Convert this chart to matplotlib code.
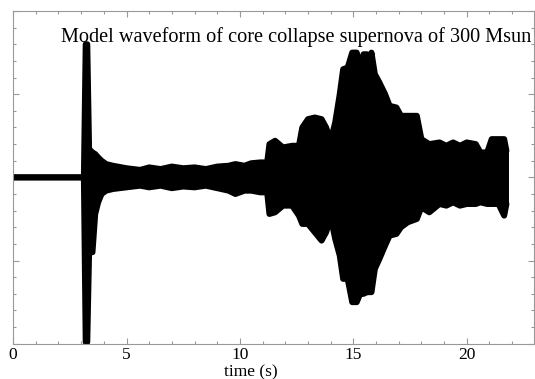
import numpy as np
import matplotlib
matplotlib.use("Agg")
import matplotlib.pyplot as plt
from matplotlib.ticker import MultipleLocator

plt.rcParams["font.family"] = ["Liberation Serif", "DejaVu Serif"]

# envelope of the waveform (arbitrary strain units)
t = [0.0, 3.12, 3.2, 3.27, 3.35, 3.5, 3.62, 3.75, 3.9, 4.1, 4.4, 5.0, 5.6, 6.0, 6.5,
     7.0, 7.5, 8.0, 8.5, 9.0, 9.5, 9.8, 10.2, 10.5, 10.9, 11.2, 11.3, 11.55, 11.9,
     12.3, 12.6, 12.75, 13.0, 13.3, 13.6, 13.8, 14.0, 14.2, 14.4, 14.55, 14.75,
     14.95, 15.15, 15.3, 15.45, 15.6, 15.7, 15.8, 15.95, 16.15, 16.4, 16.6, 16.9,
     17.1, 17.4, 17.8, 18.0, 18.35, 18.8, 19.1, 19.4, 19.7, 20.0, 20.4, 20.6,
     20.9, 21.1, 21.4, 21.65, 21.75]
upper = [0.0, 0.0, 0.80, 0.80, 0.17, 0.15, 0.14, 0.12, 0.10, 0.08, 0.07, 0.055,
         0.045, 0.06, 0.05, 0.065, 0.055, 0.06, 0.05, 0.065, 0.07, 0.08, 0.07,
         0.085, 0.09, 0.09, 0.20, 0.22, 0.18, 0.19, 0.19, 0.30, 0.35, 0.36, 0.35,
         0.30, 0.22, 0.33, 0.50, 0.65, 0.66, 0.75, 0.75, 0.66, 0.74, 0.74, 0.67,
         0.75, 0.62, 0.57, 0.50, 0.43, 0.42, 0.37, 0.37, 0.37, 0.23, 0.20, 0.21,
         0.19, 0.21, 0.19, 0.21, 0.20, 0.15, 0.15, 0.23, 0.23, 0.23, 0.16]
lower = [0.0, 0.0, -0.99, -0.99, -0.45, -0.45, -0.22, -0.15, -0.10, -0.08, -0.07,
         -0.06, -0.05, -0.06, -0.05, -0.065, -0.055, -0.06, -0.05, -0.065, -0.08,
         -0.10, -0.08, -0.08, -0.09, -0.09, -0.22, -0.21, -0.17, -0.17, -0.23,
         -0.28, -0.28, -0.33, -0.38, -0.33, -0.24, -0.37, -0.47, -0.61, -0.61,
         -0.75, -0.75, -0.70, -0.70, -0.69, -0.69, -0.69, -0.55, -0.49, -0.41,
         -0.35, -0.34, -0.30, -0.27, -0.25, -0.18, -0.21, -0.16, -0.17, -0.15,
         -0.17, -0.16, -0.16, -0.15, -0.16, -0.16, -0.16, -0.23, -0.16]

t = np.array(t)
upper = np.array(upper)
lower = np.array(lower)

fig = plt.figure(figsize=(5.35, 3.79), dpi=100)
ax = fig.add_axes([0.0245, 0.093, 0.973, 0.878])

ax.fill_between(t, lower, upper, color="black", lw=0)
ax.plot(t, upper, color="black", lw=4.3, solid_joinstyle="round", solid_capstyle="round")
ax.plot(t, lower, color="black", lw=4.3, solid_joinstyle="round", solid_capstyle="round")
ax.plot([t[-1], t[-1]], [lower[-1], upper[-1]], color="black", lw=4.3,
        solid_capstyle="round")

ax.set_xlim(0, 22.95)
ax.set_ylim(-1, 1)
ax.xaxis.set_major_locator(MultipleLocator(5))
ax.xaxis.set_minor_locator(MultipleLocator(1))
ax.yaxis.set_major_locator(MultipleLocator(0.5))
ax.yaxis.set_minor_locator(MultipleLocator(0.1))
ax.tick_params(which="both", direction="in", top=True, right=True, color="#999999",
               labelleft=False, labelsize=12.5, pad=2)
ax.tick_params(which="major", length=4, width=0.8)
ax.tick_params(which="minor", length=2.5, width=0.8)
for s in ax.spines.values():
    s.set_color("#999999")

ax.set_xlabel("time (s)", fontsize=12.5)
ax.xaxis.set_label_coords(0.457, -0.062)
ax.text(0.995, 0.907, "Model waveform of core collapse supernova of 300 Msun",
        transform=ax.transAxes, ha="right", va="baseline", fontsize=14.6)

fig.savefig("out.png", dpi=100)
